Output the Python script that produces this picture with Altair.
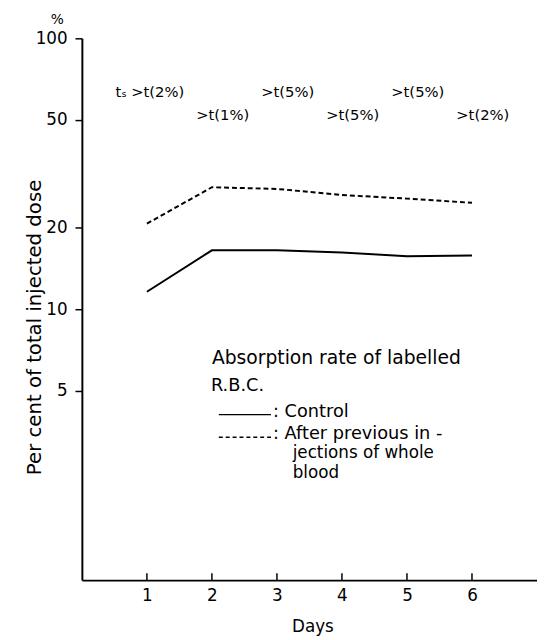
import altair as alt
import pandas as pd

# ---- data ----
days = [1, 2, 3, 4, 5, 6]
control = [11.6, 16.5, 16.5, 16.2, 15.7, 15.8]
after_injections = [20.7, 28.2, 27.8, 26.4, 25.6, 24.7]
y_ticks = [5, 10, 20, 50, 100]

ann_days = [1, 2, 3, 4, 5, 6]
ann_labels = [">t(2%)", ">t(1%)", ">t(5%)", ">t(5%)", ">t(5%)", ">t(2%)"]
ann_levels = [63.5, 52, 63.5, 52, 63.5, 52]
ann_prefix = "tₛ"

legend_heading = ["Absorption rate of labelled", "R.B.C."]
legend_control = [": Control"]
legend_after = [": After previous in -", "jections of whole", "blood"]

FONT = "DejaVu Sans"
W, H = 462, 550

x_enc = alt.X(
    "Day:Q",
    scale=alt.Scale(domain=[0, 7], nice=False, zero=False),
    axis=alt.Axis(
        values=days, format="d", ticks=False, tickSize=0, labelPadding=8,
        labelFontSize=17, title="Days", titleFontSize=17,
        titleX=234, titleY=52, titleAlign="center", titleBaseline="alphabetic",
        domainWidth=2, domainColor="black", labelColor="black", titleColor="black",
        titleFontWeight="normal", grid=False,
    ),
)
y_enc = alt.Y(
    "Value:Q",
    scale=alt.Scale(type="log", domain=[1, 100], nice=False),
    axis=alt.Axis(
        values=y_ticks, format="d", tickSize=7, tickWidth=1.5, tickColor="black",
        labelPadding=8, labelFontSize=17, labelColor="black",
        title="Per cent of total injected dose", titleFontSize=20,
        titleAngle=270, titleX=-42, titleY=293, titleAlign="center",
        titleBaseline="alphabetic", titleFontWeight="normal", titleColor="black",
        domainWidth=2, domainColor="black", grid=False,
    ),
)

control_df = pd.DataFrame({"Day": days, "Value": control})
after_df = pd.DataFrame({"Day": days, "Value": after_injections})
ann_df = pd.DataFrame({"Day": ann_days, "Value": ann_levels, "label": ann_labels})

solid = alt.Chart(control_df).mark_line(color="black", strokeWidth=2).encode(x=x_enc, y=y_enc)
dashed = alt.Chart(after_df).mark_line(color="black", strokeWidth=2, strokeDash=[5, 3]).encode(x=x_enc, y=y_enc)

xticks = alt.Chart(pd.DataFrame({"Day": days})).mark_rule(color="black", strokeWidth=1.5).encode(
    x=x_enc, y=alt.value(H - 7), y2=alt.value(H)
)

ann = alt.Chart(ann_df).mark_text(align="left", baseline="middle", dx=-16, fontSize=15, color="black").encode(
    x=x_enc, y=y_enc, text="label:N"
)
prefix = alt.Chart(ann_df.iloc[[0]].assign(p=ann_prefix)).mark_text(
    align="left", baseline="middle", dx=-32, fontSize=15, color="black"
).encode(x=x_enc, y=y_enc, text="p:N")


def txt(s, x, y, size=18, align="left"):
    return alt.Chart(pd.DataFrame({"label": [s]})).mark_text(
        align=align, baseline="middle", fontSize=size, color="black"
    ).encode(text="label:N", x=alt.value(x), y=alt.value(y))


def rule(x1, x2, y, dash=None):
    kw = dict(color="black", strokeWidth=1.5)
    if dash:
        kw["strokeDash"] = dash
    return alt.Chart(pd.DataFrame({"d": [0]})).mark_rule(**kw).encode(
        x=alt.value(x1), x2=alt.value(x2), y=alt.value(y)
    )


pct = txt("%", -25, -19, size=14, align="center")

legend_layers = [
    txt(legend_heading[0], 132, 325, size=19),
    txt(legend_heading[1], 131, 353),
    rule(139, 192, 382),
    txt(legend_control[0], 194, 379),
    rule(139, 192, 405, dash=[4, 3]),
    txt(legend_after[0], 194, 402),
    txt(legend_after[1], 214, 421, size=17),
    txt(legend_after[2], 214, 441, size=17),
]

chart = alt.layer(solid, dashed, xticks, ann, prefix, pct, *legend_layers).properties(
    width=W, height=H,
    autosize=alt.AutoSizeParams(type="none"),
    padding={"left": 75, "top": 26, "right": 0, "bottom": 56},
).configure(font=FONT).configure_view(stroke=None)

chart.save("out.html", embed_options={"renderer": "svg", "actions": False})
